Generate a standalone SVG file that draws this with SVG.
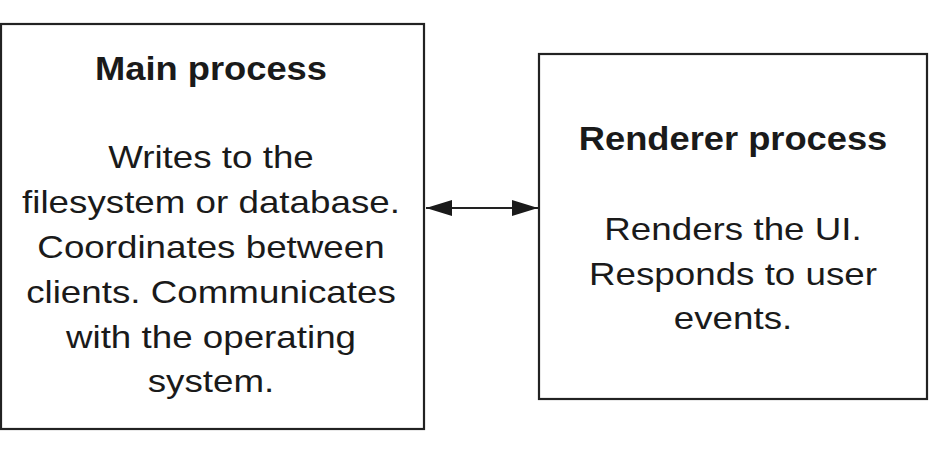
<svg xmlns="http://www.w3.org/2000/svg" width="930" height="474" viewBox="0 0 930 474">
<defs>
<style>
.box{fill:#fff;stroke:#222;stroke-width:2.2}
.t{font-family:"Liberation Sans",Arial,sans-serif;fill:#1a1a1a;text-anchor:middle}
.h{font-weight:bold;font-size:33px}
.b{font-size:30.5px}
.conn{stroke:#222;stroke-width:2.2;fill:none}
</style>
<marker id="ah" viewBox="0 0 26 16" refX="26" refY="8" markerWidth="26" markerHeight="16" markerUnits="userSpaceOnUse" orient="auto-start-reverse">
<path d="M0,0 L26,8 L0,16 Z" fill="#1a1a1a"/>
</marker>
</defs>
<rect width="930" height="474" fill="#fff"/>
<g id="main">
<rect class="box" x="1" y="24" width="423" height="405"/>
<g transform="scale(1.1 1)">
<text class="t h" x="191.8" y="80">Main process</text>
</g>
<g transform="scale(1.205 1)">
<text class="t b" x="175.1" y="168">Writes to the</text>
<text class="t b" x="175.1" y="213">filesystem or database.</text>
<text class="t b" x="175.1" y="258">Coordinates between</text>
<text class="t b" x="175.1" y="303">clients. Communicates</text>
<text class="t b" x="175.1" y="348">with the operating</text>
<text class="t b" x="175.1" y="392">system.</text>
</g>
</g>
<g id="renderer">
<rect class="box" x="539" y="54" width="388" height="345"/>
<g transform="scale(1.1 1)">
<text class="t h" x="666.4" y="150">Renderer process</text>
</g>
<g transform="scale(1.205 1)">
<text class="t b" x="608.3" y="240">Renders the UI.</text>
<text class="t b" x="608.3" y="285">Responds to user</text>
<text class="t b" x="608.3" y="329">events.</text>
</g>
</g>
<g id="connectors">
<line class="conn" x1="426" y1="208" x2="538" y2="208" marker-start="url(#ah)" marker-end="url(#ah)"/>
</g>
</svg>
